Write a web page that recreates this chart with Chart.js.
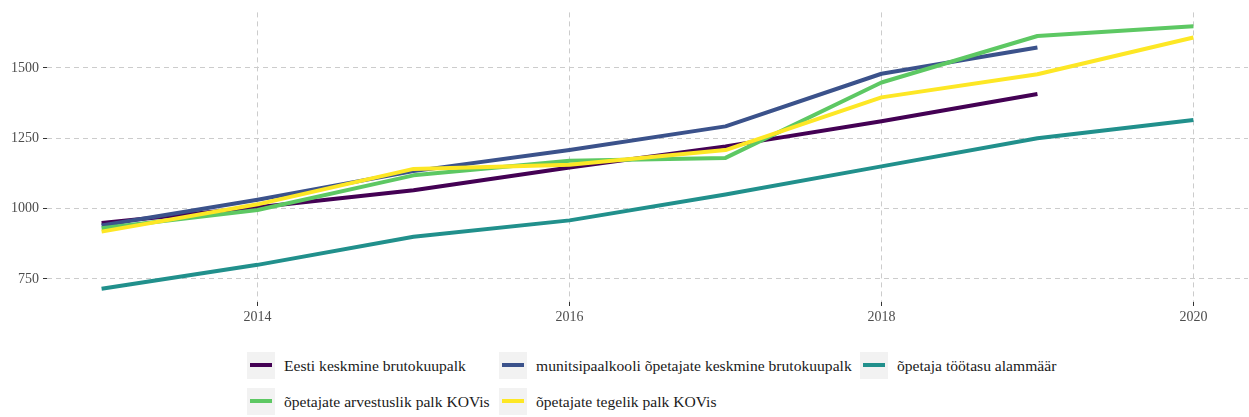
<!DOCTYPE html>
<html lang="et">
<head>
    <meta charset="UTF-8">
    <title>Palgad</title>
    <script src="https://cdn.jsdelivr.net/npm/chart.js"></script>
    <style>
        body { margin: 0; background: #fff; font-family: "Liberation Serif", serif; }
        .wrap { position: relative; width: 1249px; height: 417px; }
        .plot { position: absolute; left: 0; top: 0; width: 1249px; height: 335px; }
        #legend {
            position: absolute; left: 247px; top: 352px;
            display: grid; grid-template-columns: 252px 361px auto;
            row-gap: 9px;
        }
        .item { display: flex; align-items: center; height: 27px; }
        .key { width: 28px; height: 27px; background: #f2f2f2; position: relative; margin-right: 9px; flex: none; }
        .key span { position: absolute; left: 3px; right: 3px; top: 11px; height: 4px; }
        .item .txt { font-size: 15.6px; color: #1a1a1a; white-space: nowrap; }
    </style>
</head>
<body>
<div class="wrap">
    <div class="plot"><canvas id="palgad"></canvas></div>
    <div id="legend"></div>
</div>
<script>
    // aastad ja näitajad (eurot kuus)
    const aastad = [2013, 2014, 2015, 2016, 2017, 2018, 2019, 2020];
    const eestiKeskmine = [949, 1005, 1065, 1146, 1221, 1310, 1407];
    const munitsipaalOpetajad = [940, 1031, 1133, 1208, 1292, 1479, 1572];
    const alammaar = [715, 800, 900, 958, 1050, 1150, 1250, 1315];
    const arvestuslikKOV = [930, 995, 1118, 1170, 1180, 1448, 1613, 1648];
    const tegelikKOV = [918, 1015, 1141, 1156, 1208, 1395, 1477, 1608];

    const xTicks = [2014, 2016, 2018, 2020];
    const yTicks = [750, 1000, 1250, 1500];

    const seeriad = [
        { nimi: 'Eesti keskmine brutokuupalk', andmed: eestiKeskmine, varv: '#440154' },
        { nimi: 'munitsipaalkooli õpetajate keskmine brutokuupalk', andmed: munitsipaalOpetajad, varv: '#3b528b' },
        { nimi: 'õpetaja töötasu alammäär', andmed: alammaar, varv: '#21908c' },
        { nimi: 'õpetajate arvestuslik palk KOVis', andmed: arvestuslikKOV, varv: '#5dc863' },
        { nimi: 'õpetajate tegelik palk KOVis', andmed: tegelikKOV, varv: '#fde725' }
    ];

    const datasets = seeriad.map((s, i) => ({
        label: s.nimi,
        data: s.andmed.map((v, j) => ({ x: aastad[j], y: v })),
        borderColor: s.varv,
        backgroundColor: s.varv,
        borderWidth: 4,
        borderJoinStyle: 'round',
        pointRadius: 0,
        tension: 0,
        order: seeriad.length - i
    }));

    Chart.defaults.font.family = "'Liberation Serif', serif";
    Chart.defaults.font.size = 14;
    Chart.defaults.color = '#4d4d4d';

    const gridOpts = { color: '#cccccc', lineWidth: 1, tickLength: 4, tickColor: '#333333' };

    const chart = new Chart(document.getElementById('palgad'), {
        type: 'line',
        data: { datasets },
        options: {
            responsive: true,
            maintainAspectRatio: false,
            animation: false,
            layout: { padding: { top: 10, right: 1, left: 0, bottom: 0 } },
            plugins: { legend: { display: false }, tooltip: { enabled: false } },
            scales: {
                x: {
                    type: 'linear',
                    min: 2012.65,
                    max: 2020.35,
                    afterBuildTicks: s => { s.ticks = xTicks.map(v => ({ value: v })); },
                    afterFit: s => { s.height = 33; },
                    grid: gridOpts,
                    border: { display: false, dash: [5, 4] },
                    ticks: { padding: 3, maxRotation: 0, callback: v => String(v) }
                },
                y: {
                    min: 668,
                    max: 1697,
                    afterBuildTicks: s => { s.ticks = yTicks.map(v => ({ value: v })); },
                    afterFit: s => { s.width = 47; },
                    grid: gridOpts,
                    border: { display: false, dash: [5, 4] },
                    ticks: { padding: 4, callback: v => String(v) }
                }
            }
        }
    });

    // legend kolmes veerus nagu originaalis
    const legend = document.getElementById('legend');
    chart.data.datasets.forEach(ds => {
        legend.insertAdjacentHTML('beforeend',
            `<div class="item"><div class="key"><span style="background:${ds.borderColor}"></span></div>` +
            `<div class="txt">${ds.label}</div></div>`);
    });
</script>
</body>
</html>
